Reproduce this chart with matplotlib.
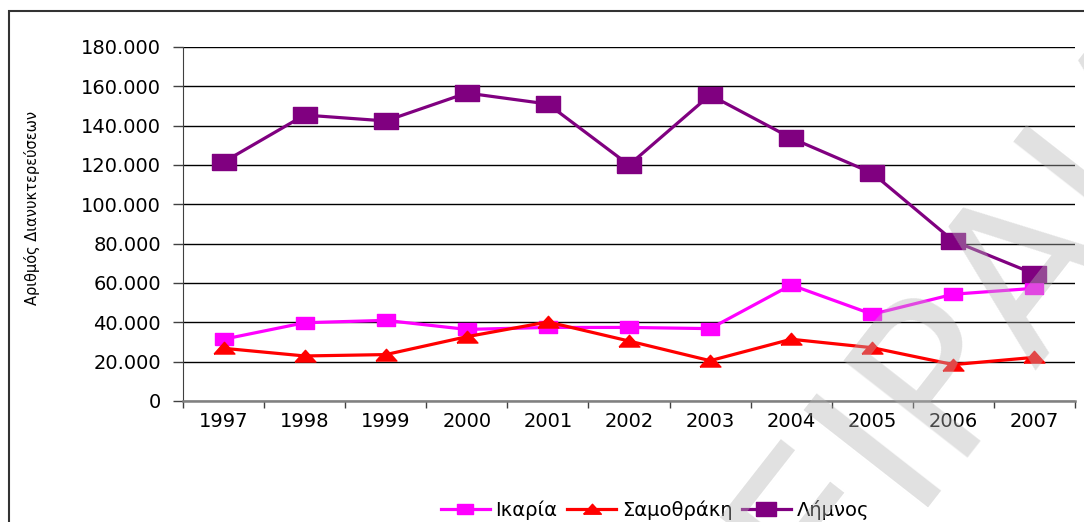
import matplotlib.pyplot as plt
import matplotlib.patches as patches
from matplotlib.ticker import FuncFormatter, MultipleLocator, FixedLocator

# overnight stays per island
years = ['1997', '1998', '1999', '2000', '2001', '2002', '2003', '2004', '2005', '2006', '2007']
ikaria = [31400, 39800, 41000, 36400, 37400, 37400, 36800, 59000, 44100, 54300, 57300]
samothraki = [26800, 22900, 23600, 32700, 40200, 30500, 20500, 31400, 27100, 18500, 22200]
limnos = [121500, 145400, 142400, 156600, 151000, 120000, 155600, 133700, 115900, 81400, 64600]

fig = plt.figure(figsize=(10.84, 5.22), dpi=100)
ax = fig.add_axes([183/1084, 1-401/522, 892/1084, 354/522])

x = range(len(years))
# wide markers (the chart is drawn stretched sideways)
sq = [(-1.4, -1), (1.4, -1), (1.4, 1), (-1.4, 1), (-1.4, -1)]
tri = [(-1.6, -0.85), (1.6, -0.85), (0, 0.95), (-1.6, -0.85)]

ax.plot(x, ikaria, color='#ff00ff', lw=2.3, marker=sq, ms=13, label='Ικαρία', zorder=3)
ax.plot(x, samothraki, color='#ff0000', lw=2.3, marker=tri, ms=15, label='Σαμοθράκη', zorder=3)
ax.plot(x, limnos, color='#800080', lw=2.3, marker=sq, ms=17, label='Λήμνος', zorder=3)

ax.set_xlim(-0.5, len(years) - 0.5)
ax.set_ylim(0, 180000)
ax.yaxis.set_major_locator(MultipleLocator(20000))
ax.yaxis.set_major_formatter(FuncFormatter(lambda v, p: f'{int(v):,}'.replace(',', '.')))
ax.grid(axis='y', color='black', lw=1)
ax.set_axisbelow(True)

ax.set_xticks(list(x))
ax.set_xticklabels(years)
ax.xaxis.set_minor_locator(FixedLocator([i - 0.5 for i in range(len(years) + 1)]))
ax.tick_params(axis='x', which='major', length=0, pad=8, labelsize=14)
ax.tick_params(axis='x', which='minor', length=5, width=1, color='#404040', direction='out')
ax.tick_params(axis='y', length=7, width=1, color='#404040', pad=9, labelsize=14)

for s in ['top', 'right']:
    ax.spines[s].set_visible(False)
ax.spines['left'].set_color('#404040')
ax.spines['bottom'].set_color('#808080')
ax.spines['bottom'].set_linewidth(1.8)

fig.text(32/1084, 1-208/522, 'Αριθμός Διανυκτερεύσεων', rotation=90,
         ha='center', va='center', fontsize=10.5)

fig.legend(loc='center', bbox_to_anchor=(655/1084, 1-510/522), ncol=3, frameon=False,
           fontsize=14, handlelength=2.5, handletextpad=0.3, columnspacing=0.5,
           markerscale=0.85)

# outer border of the chart area
fig.patches.append(patches.Rectangle((9/1084, -0.2), 1.2, 1.2 - 11/522,
                                     transform=fig.transFigure, fill=False,
                                     edgecolor='#333333', lw=1.5))

# watermark
fig.text(1200/1084, 1-35/522, 'ΠΕΙΡΑΙΑ', rotation=52, rotation_mode='anchor',
         ha='right', va='center', fontsize=155, color='#b4b4b4', alpha=0.4, zorder=10)

fig.savefig('out.png', dpi=100)
